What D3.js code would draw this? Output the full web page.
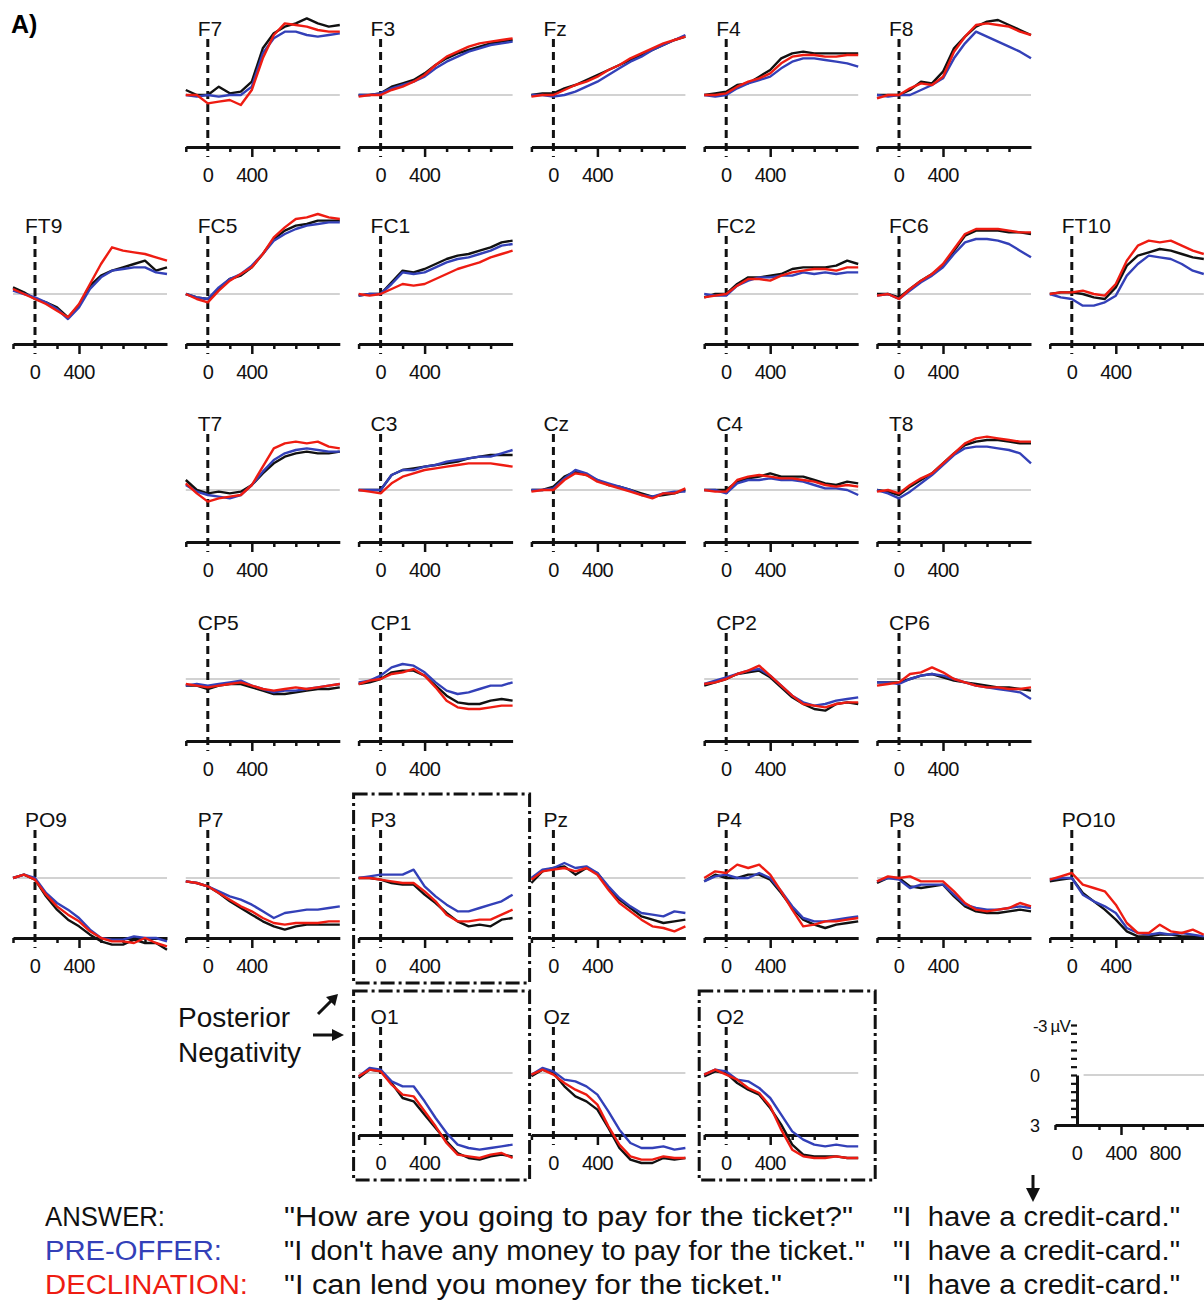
<!DOCTYPE html>
<html>
<head>
<meta charset="utf-8">
<script src="https://cdn.jsdelivr.net/npm/d3@7"></script>
<style>
  body { margin: 0; background: #fff; }
  svg { display: block; font-family: "Liberation Sans", Arial, sans-serif; }
</style>
</head>
<body>
<div id="chart"></div>
<script>
// sample times (ms) for every waveform
const times = [-200, -100, 0, 100, 200, 300, 400, 500, 600, 700, 800, 900, 1000, 1100, 1200];

const conditions = ['ANSWER:', 'PRE-OFFER:', 'DECLINATION:'];
const contexts = [
  '"How are you going to pay for the ticket?"',
  '"I don\'t have any money to pay for the ticket."',
  '"I can lend you money for the ticket."'
];
const target = '"I  have a credit-card."';
const colors = ['#111111', '#3340b8', '#ee1c12'];

// electrode montage, rows x columns
const grid = [
  [null, 'F7', 'F3', 'Fz', 'F4', 'F8', null],
  ['FT9', 'FC5', 'FC1', null, 'FC2', 'FC6', 'FT10'],
  [null, 'T7', 'C3', 'Cz', 'C4', 'T8', null],
  [null, 'CP5', 'CP1', null, 'CP2', 'CP6', null],
  ['PO9', 'P7', 'P3', 'Pz', 'P4', 'P8', 'PO10'],
  [null, null, 'O1', 'Oz', 'O2', null, null]
];
const boxed = ['P3', 'O1', 'O2'];

// amplitudes in µV (negative plotted up)
const answer = {
  F7: [-0.3, 0, 0, -0.5, -0.1, -0.2, -0.8, -2.8, -3.7, -4.1, -4.3, -4.6, -4.3, -4.1, -4.2],
  F3: [0, 0, -0.1, -0.5, -0.7, -0.9, -1.3, -1.8, -2.2, -2.5, -2.7, -2.9, -3.1, -3.2, -3.3],
  Fz: [0, -0.1, -0.1, -0.4, -0.6, -0.9, -1.2, -1.5, -1.8, -2.1, -2.4, -2.7, -3.0, -3.3, -3.5],
  F4: [0, -0.1, -0.2, -0.6, -0.7, -1.1, -1.5, -2.2, -2.5, -2.6, -2.5, -2.5, -2.5, -2.5, -2.5],
  F8: [0, 0, 0, -0.3, -0.8, -0.7, -1.4, -2.8, -3.5, -4.1, -4.4, -4.5, -4.2, -3.9, -3.6],
  FT9: [-0.4, -0.1, 0.3, 0.5, 0.8, 1.4, 0.7, -0.5, -1.1, -1.4, -1.6, -1.8, -2.0, -1.4, -1.6],
  FC5: [0, 0.2, 0.3, -0.3, -0.9, -1.1, -1.6, -2.4, -3.3, -3.8, -4.1, -4.2, -4.4, -4.4, -4.4],
  FC1: [0.1, 0, 0, -0.7, -1.4, -1.3, -1.5, -1.8, -2.1, -2.3, -2.4, -2.6, -2.8, -3.1, -3.2],
  FC2: [0.2, 0, 0, -0.6, -1.0, -1.0, -1.1, -1.2, -1.5, -1.6, -1.6, -1.6, -1.7, -2.0, -1.8],
  FC6: [0, 0, 0.2, -0.3, -0.8, -1.2, -1.7, -2.6, -3.5, -3.8, -3.8, -3.8, -3.7, -3.7, -3.6],
  FT10: [0, -0.1, -0.1, 0, 0.2, 0.3, -0.4, -1.7, -2.3, -2.5, -2.7, -2.6, -2.4, -2.2, -2.1],
  T7: [-0.6, 0, 0.2, 0.1, 0.2, 0.1, -0.3, -1.0, -1.6, -2.0, -2.2, -2.3, -2.2, -2.2, -2.3],
  C3: [0, 0, 0, -0.9, -1.2, -1.3, -1.4, -1.5, -1.6, -1.7, -1.9, -2.0, -2.1, -2.1, -2.1],
  Cz: [0, 0, -0.2, -0.8, -1.1, -0.9, -0.6, -0.3, -0.2, 0, 0.2, 0.4, 0.3, 0.2, 0],
  C4: [0, 0, 0, -0.5, -0.7, -0.8, -1.0, -0.8, -0.8, -0.8, -0.6, -0.4, -0.3, -0.5, -0.4],
  T8: [0, 0.1, 0.3, -0.2, -0.6, -1.0, -1.6, -2.2, -2.7, -2.9, -3.0, -3.0, -2.9, -2.8, -2.8],
  CP5: [0.4, 0.4, 0.6, 0.4, 0.3, 0.3, 0.5, 0.7, 0.9, 0.9, 0.8, 0.7, 0.6, 0.6, 0.5],
  CP1: [0.3, 0.2, 0, -0.4, -0.5, -0.5, -0.2, 0.4, 1.0, 1.4, 1.5, 1.5, 1.3, 1.2, 1.3],
  CP2: [0.4, 0.2, 0, -0.3, -0.4, -0.5, -0.1, 0.5, 1.1, 1.5, 1.8, 1.9, 1.5, 1.4, 1.5],
  CP6: [0.2, 0.2, 0.2, 0, -0.2, -0.3, -0.1, 0.1, 0.2, 0.3, 0.4, 0.5, 0.5, 0.6, 0.7],
  PO9: [0, -0.2, 0.1, 1.1, 1.9, 2.5, 2.9, 3.4, 3.8, 4.0, 4.0, 3.7, 3.9, 3.9, 4.3],
  P7: [0.2, 0.3, 0.5, 0.9, 1.4, 1.8, 2.2, 2.6, 2.9, 3.1, 2.9, 2.8, 2.8, 2.8, 2.8],
  P3: [0, 0, 0.1, 0.3, 0.4, 0.4, 1.0, 1.5, 2.1, 2.6, 2.9, 2.8, 2.9, 2.5, 2.4],
  Pz: [0.3, -0.4, -0.6, -0.7, -0.2, -0.6, -0.3, 0.6, 1.3, 1.8, 2.3, 2.5, 2.7, 2.6, 2.5],
  P4: [0.2, -0.2, 0, 0, -0.2, -0.2, 0.1, 0.9, 1.8, 2.5, 2.8, 3.0, 2.8, 2.7, 2.6],
  P8: [0.3, 0, 0, 0.5, 0.6, 0.5, 0.4, 1.1, 1.7, 2.0, 2.1, 2.1, 2.0, 1.9, 2.0],
  PO10: [0.2, 0.1, 0, 0.9, 1.4, 1.9, 2.5, 3.2, 3.5, 3.5, 3.4, 3.4, 3.5, 3.5, 3.6],
  O1: [0.3, -0.2, -0.1, 0.6, 1.5, 1.7, 2.5, 3.3, 4.1, 4.8, 5.1, 5.2, 5.0, 4.9, 5.0],
  Oz: [0.2, -0.2, 0, 0.8, 1.4, 1.7, 2.2, 3.3, 4.5, 5.2, 5.4, 5.4, 5.1, 5.2, 5.1],
  O2: [0.2, -0.1, 0, 0.6, 1.0, 1.3, 2.1, 3.1, 4.3, 4.9, 5.0, 5.0, 5.0, 5.1, 5.1]
};

const preOffer = {
  F7: [0, 0.1, 0, 0.1, 0, 0, -0.5, -2.5, -3.4, -3.8, -3.8, -3.6, -3.5, -3.6, -3.7],
  F3: [0, 0, -0.1, -0.4, -0.6, -0.8, -1.1, -1.6, -2.0, -2.3, -2.6, -2.8, -3.0, -3.1, -3.2],
  Fz: [0, 0, 0.1, 0, -0.2, -0.5, -0.8, -1.2, -1.6, -2.0, -2.3, -2.7, -3.0, -3.3, -3.6],
  F4: [0, 0.1, 0, -0.4, -0.7, -0.9, -1.1, -1.6, -2.0, -2.2, -2.2, -2.1, -2.0, -1.9, -1.7],
  F8: [0, 0.1, 0, 0, -0.3, -0.6, -1.0, -2.2, -3.1, -3.8, -3.5, -3.2, -2.9, -2.6, -2.2],
  FT9: [-0.2, 0, 0.2, 0.5, 0.9, 1.5, 0.8, -0.3, -1.0, -1.4, -1.5, -1.6, -1.6, -1.3, -1.2],
  FC5: [0, 0.2, 0.3, -0.4, -0.9, -1.2, -1.7, -2.4, -3.2, -3.6, -3.9, -4.1, -4.2, -4.3, -4.3],
  FC1: [0.1, 0, 0, -0.6, -1.3, -1.2, -1.3, -1.6, -1.9, -2.1, -2.2, -2.4, -2.6, -2.9, -3.0],
  FC2: [0, 0.1, 0.1, -0.5, -0.8, -1.0, -1.0, -1.1, -1.1, -1.3, -1.2, -1.3, -1.2, -1.3, -1.3],
  FC6: [0.1, 0, 0.3, -0.2, -0.7, -1.1, -1.6, -2.4, -3.1, -3.3, -3.3, -3.2, -3.0, -2.6, -2.2],
  FT10: [0, 0.2, 0.3, 0.7, 0.7, 0.5, 0.1, -1.1, -1.8, -2.3, -2.2, -2.1, -1.8, -1.4, -1.2],
  T7: [-0.3, 0.1, 0.3, 0.4, 0.5, 0.3, -0.3, -1.1, -1.8, -2.2, -2.4, -2.5, -2.4, -2.3, -2.3],
  C3: [0, 0, 0, -0.9, -1.2, -1.2, -1.4, -1.5, -1.7, -1.8, -1.9, -2.0, -2.0, -2.2, -2.4],
  Cz: [0, 0, -0.1, -0.7, -1.2, -1.0, -0.6, -0.4, -0.2, 0, 0.3, 0.4, 0.2, 0.1, 0.1],
  C4: [0, 0, 0.2, -0.4, -0.6, -0.6, -0.7, -0.6, -0.6, -0.5, -0.3, -0.1, -0.1, 0, 0.3],
  T8: [0, 0.2, 0.5, 0.1, -0.4, -0.9, -1.5, -2.1, -2.5, -2.6, -2.6, -2.5, -2.4, -2.2, -1.6],
  CP5: [0.4, 0.3, 0.4, 0.3, 0.2, 0.1, 0.4, 0.6, 0.8, 0.7, 0.7, 0.6, 0.5, 0.4, 0.3],
  CP1: [0.2, 0.1, -0.2, -0.7, -0.9, -0.8, -0.4, 0.2, 0.7, 0.9, 0.8, 0.6, 0.4, 0.4, 0.2],
  CP2: [0.3, 0.1, -0.1, -0.3, -0.5, -0.6, -0.2, 0.4, 1.0, 1.4, 1.6, 1.5, 1.3, 1.2, 1.1],
  CP6: [0.2, 0.2, 0.3, 0, -0.2, -0.3, -0.2, 0, 0.2, 0.4, 0.5, 0.6, 0.7, 0.8, 1.2],
  PO9: [0, -0.2, 0, 0.9, 1.5, 1.9, 2.4, 3.1, 3.6, 3.7, 3.7, 3.5, 3.6, 3.6, 3.8],
  P7: [0.2, 0.3, 0.5, 0.8, 1.1, 1.3, 1.6, 2.0, 2.4, 2.1, 2.0, 1.9, 1.9, 1.8, 1.7],
  P3: [0, -0.1, -0.2, -0.2, -0.2, -0.5, 0.5, 1.1, 1.6, 2.0, 2.0, 1.8, 1.6, 1.4, 1.0],
  Pz: [0, -0.5, -0.6, -0.9, -0.6, -0.7, -0.3, 0.5, 1.2, 1.7, 2.1, 2.2, 2.3, 2.0, 2.1],
  P4: [0.2, -0.1, -0.2, 0, 0, -0.3, 0, 0.8, 1.7, 2.4, 2.6, 2.6, 2.5, 2.4, 2.3],
  P8: [0.2, 0, 0.1, 0.6, 0.4, 0.4, 0.4, 1.0, 1.6, 1.8, 1.9, 1.9, 1.8, 1.7, 1.8],
  PO10: [0.1, 0, 0, 1.0, 1.4, 1.7, 2.1, 3.0, 3.3, 3.4, 3.3, 3.4, 3.3, 3.4, 3.5],
  O1: [0.2, -0.3, -0.2, 0.5, 0.8, 0.8, 1.7, 2.7, 3.6, 4.3, 4.5, 4.6, 4.5, 4.4, 4.3],
  Oz: [0.1, -0.3, -0.1, 0.4, 0.5, 0.8, 1.3, 2.3, 3.4, 4.2, 4.5, 4.5, 4.4, 4.6, 4.5],
  O2: [0.1, -0.2, -0.1, 0.4, 0.5, 0.9, 1.5, 2.5, 3.5, 4.0, 4.3, 4.4, 4.3, 4.4, 4.4]
};

const declination = {
  F7: [0, 0, 0.5, 0.4, 0.3, 0.6, -0.3, -2.2, -3.6, -4.3, -4.2, -4.1, -3.9, -3.8, -3.8],
  F3: [0.1, 0, 0, -0.3, -0.5, -0.8, -1.2, -1.8, -2.3, -2.6, -2.9, -3.1, -3.2, -3.3, -3.4],
  Fz: [0.1, 0, 0, -0.3, -0.6, -0.8, -1.1, -1.5, -1.8, -2.2, -2.5, -2.8, -3.1, -3.3, -3.5],
  F4: [0, 0, -0.1, -0.5, -0.8, -1.0, -1.3, -1.9, -2.3, -2.4, -2.4, -2.3, -2.3, -2.4, -2.4],
  F8: [0.2, 0, 0, -0.4, -0.7, -0.6, -1.1, -2.6, -3.5, -4.2, -4.3, -4.2, -4.1, -3.8, -3.6],
  FT9: [-0.3, 0, 0.3, 0.6, 1.0, 1.4, 0.6, -0.6, -1.8, -2.8, -2.6, -2.5, -2.4, -2.2, -2.0],
  FC5: [0, 0.3, 0.5, -0.2, -0.8, -1.2, -1.6, -2.4, -3.4, -4.0, -4.5, -4.6, -4.8, -4.6, -4.5],
  FC1: [0, 0.1, 0, -0.3, -0.6, -0.5, -0.6, -0.9, -1.2, -1.5, -1.7, -1.9, -2.2, -2.4, -2.6],
  FC2: [0.2, 0.1, 0, -0.5, -0.9, -0.9, -0.8, -1.1, -1.3, -1.4, -1.5, -1.5, -1.4, -1.6, -1.6],
  FC6: [0.1, 0, 0.3, -0.3, -0.8, -1.2, -1.8, -2.7, -3.6, -3.9, -3.9, -3.9, -3.8, -3.7, -3.7],
  FT10: [0, -0.1, -0.1, -0.2, 0, 0.1, -0.6, -2.0, -2.9, -3.2, -3.1, -3.2, -2.9, -2.6, -2.4],
  T7: [-0.4, 0.2, 0.7, 0.5, 0.4, 0.3, -0.3, -1.4, -2.5, -2.8, -2.9, -2.8, -2.9, -2.6, -2.5],
  C3: [0, 0.1, 0.2, -0.4, -0.8, -1.0, -1.2, -1.3, -1.4, -1.5, -1.6, -1.6, -1.6, -1.5, -1.4],
  Cz: [0.1, 0, 0, -0.6, -1.0, -0.9, -0.5, -0.3, -0.1, 0.1, 0.3, 0.5, 0.2, 0.2, -0.1],
  C4: [0, 0.1, 0.1, -0.6, -0.8, -0.9, -0.8, -0.7, -0.7, -0.6, -0.5, -0.3, -0.2, -0.3, -0.2],
  T8: [0.1, 0, 0.2, -0.3, -0.7, -1.0, -1.6, -2.2, -2.8, -3.1, -3.2, -3.1, -3.0, -2.9, -2.9],
  CP5: [0.3, 0.4, 0.5, 0.4, 0.3, 0.2, 0.4, 0.6, 0.7, 0.6, 0.5, 0.6, 0.5, 0.4, 0.3],
  CP1: [0.3, 0.1, 0, -0.3, -0.4, -0.6, -0.2, 0.5, 1.3, 1.7, 1.8, 1.8, 1.7, 1.6, 1.6],
  CP2: [0.3, 0.2, 0, -0.3, -0.5, -0.8, -0.2, 0.4, 1.0, 1.5, 1.6, 1.7, 1.5, 1.4, 1.4],
  CP6: [0.4, 0.3, 0.2, -0.3, -0.4, -0.7, -0.4, 0, 0.2, 0.4, 0.5, 0.5, 0.6, 0.6, 0.5],
  PO9: [0, -0.2, 0.1, 1.0, 1.7, 2.2, 2.6, 3.2, 3.6, 3.8, 3.8, 3.9, 3.6, 3.9, 4.1],
  P7: [0.2, 0.3, 0.5, 0.9, 1.3, 1.7, 2.0, 2.4, 2.7, 2.8, 2.7, 2.7, 2.7, 2.6, 2.6],
  P3: [0, 0, 0.1, 0.2, 0.3, 0.3, 0.8, 1.4, 2.2, 2.6, 2.6, 2.5, 2.5, 2.2, 1.9],
  Pz: [0.1, -0.4, -0.5, -0.6, -0.4, -0.6, -0.2, 0.7, 1.5, 2.0, 2.5, 2.9, 3.0, 3.2, 2.9],
  P4: [0, -0.4, -0.3, -0.8, -0.6, -0.8, -0.2, 0.8, 1.9, 2.9, 2.8, 2.6, 2.6, 2.5, 2.4],
  P8: [0.2, -0.1, 0, -0.1, 0.2, 0.2, 0.2, 0.8, 1.5, 1.9, 2.0, 1.9, 1.8, 1.5, 1.7],
  PO10: [0.1, -0.1, -0.3, 0.4, 0.6, 0.8, 1.6, 2.7, 3.3, 3.3, 2.8, 3.2, 3.3, 3.1, 3.4],
  O1: [0.2, -0.2, -0.1, 0.7, 1.3, 1.4, 2.3, 3.2, 4.2, 4.9, 5.0, 5.1, 4.9, 4.8, 5.1],
  Oz: [0.1, -0.2, 0.1, 0.6, 1.0, 1.3, 1.9, 3.2, 4.3, 5.0, 5.2, 5.2, 5.0, 5.1, 5.1],
  O2: [0.1, -0.2, 0.1, 0.4, 0.9, 1.2, 2.0, 3.4, 4.6, 5.0, 5.1, 5.1, 5.0, 5.1, 5.1]
};

const series = [answer, preOffer, declination];
const xTicks = [-200, 200, 400, 600, 800, 1000];
const xTickLabels = [0, 400];
const calXLabels = [0, 400, 800];
const calYTicks = d3.range(-3, 3.01, 0.5);
const calYLabels = [-3, 0, 3];

// layout
const width = 1204;
const height = 1306;
const colZero = c => 35 + 172.8 * c;
const rowBase = [95, 294, 490, 679, 878, 1073];
const rowAxis = [147, 344, 542, 741, 938, 1135];
// widths the legend sentences take up in the figure
const conditionWidths = [120, 177, 203];
const contextWidths = [569, 581, 498];
const targetWidth = 287;

const svg = d3.select('#chart')
  .append('svg')
  .attr('width', width)
  .attr('height', height)
  .attr('viewBox', [0, 0, width, height]);

svg.append('text')
  .attr('x', 11).attr('y', 33)
  .attr('font-size', 25).attr('font-weight', 'bold')
  .text('A)');

function panelScales(x0, base) {
  const x = d3.scaleLinear().domain([-200, 1200]).range([x0 - 22, x0 + 132]);
  const y = d3.scaleLinear().domain([0, 3]).range([base, base + 50]);
  return {x, y};
}

function timeAxis(g, x, axisY, labels) {
  g.attr('transform', `translate(0,${axisY})`)
    .call(d3.axisBottom(x).tickValues(xTicks).tickSize(5).tickSizeOuter(0).tickFormat(''))
    .call(g => g.select('.domain').attr('stroke', '#111').attr('stroke-width', 3))
    .call(g => g.selectAll('.tick line').attr('stroke', '#111').attr('stroke-width', 2.5)
      .attr('y2', d => d === 400 ? 10 : 5));
  g.selectAll('.lbl')
    .data(labels)
    .join('text')
    .attr('class', 'lbl')
    .attr('x', d => x(d))
    .attr('y', 35)
    .attr('text-anchor', 'middle')
    .attr('font-size', 20)
    .attr('letter-spacing', -0.8)
    .attr('fill', '#111')
    .text(d => d);
}

const line = d3.line().curve(d3.curveLinear);

grid.forEach((row, r) => {
  row.forEach((name, c) => {
    if (!name) return;
    const x0 = colZero(c);
    const {x, y} = panelScales(x0, rowBase[r]);
    const g = svg.append('g');

    // zero line
    g.append('line')
      .attr('x1', x(-200)).attr('x2', x(1200))
      .attr('y1', y(0)).attr('y2', y(0))
      .attr('stroke', '#d2d2d2').attr('stroke-width', 2);

    // onset marker
    g.append('line')
      .attr('x1', x(0)).attr('x2', x(0))
      .attr('y1', rowAxis[r] - 108).attr('y2', rowAxis[r] + 10)
      .attr('stroke', '#111').attr('stroke-width', 3)
      .attr('stroke-dasharray', '8,5');

    g.append('g').call(timeAxis, x, rowAxis[r], xTickLabels);

    series.forEach((s, i) => {
      g.append('path')
        .attr('d', line(times.map((t, k) => [x(t), y(s[name][k])])))
        .attr('fill', 'none')
        .attr('stroke', colors[i])
        .attr('stroke-width', 2.4)
        .attr('stroke-linejoin', 'round');
    });

    g.append('text')
      .attr('x', x0 - 10).attr('y', rowAxis[r] - 111)
      .attr('font-size', 21).attr('fill', '#111')
      .text(name);

    if (boxed.includes(name)) {
      g.append('rect')
        .attr('x', x0 - 27).attr('y', rowAxis[r] - 144)
        .attr('width', 176).attr('height', 189)
        .attr('fill', 'none').attr('stroke', '#111').attr('stroke-width', 3)
        .attr('stroke-dasharray', '14,4,3,4');
    }
  });
});

// calibration panel
{
  const x0 = 1077;
  const base = 1075;
  const {x, y} = panelScales(x0, base);
  const g = svg.append('g');
  g.append('line')
    .attr('x1', x(60)).attr('x2', x(1200))
    .attr('y1', y(0)).attr('y2', y(0))
    .attr('stroke', '#d2d2d2').attr('stroke-width', 2);
  g.append('g').call(timeAxis, x, y(3), calXLabels);
  g.append('g')
    .attr('transform', `translate(${x(0)},0)`)
    .call(d3.axisLeft(y).tickValues(calYTicks).tickSize(6).tickSizeOuter(0).tickFormat(''))
    .call(g => g.select('.domain').attr('stroke', '#111').attr('stroke-width', 3))
    .call(g => g.selectAll('.tick line').attr('stroke', '#111').attr('stroke-width', 2.2));
  g.selectAll('.ylab')
    .data(calYLabels)
    .join('text')
    .attr('x', d => d === -3 ? x(0) - 7 : x(0) - 37)
    .attr('y', d => y(d) + 7)
    .attr('text-anchor', 'end')
    .attr('font-size', d => d === -3 ? 17 : 18)
    .attr('letter-spacing', d => d === -3 ? -0.8 : 0)
    .attr('fill', '#111')
    .text(d => d === -3 ? '-3 \u00b5V' : d);
}

// arrow under the calibration
svg.append('path')
  .attr('d', 'M1033,1175 V1192')
  .attr('stroke', '#111').attr('stroke-width', 3);
svg.append('path')
  .attr('d', 'M1026,1188 L1040,1188 L1033,1202 Z')
  .attr('fill', '#111');

// Posterior Negativity annotation
svg.append('text').attr('x', 178).attr('y', 1027).attr('font-size', 28).attr('fill', '#111').text('Posterior');
svg.append('text').attr('x', 178).attr('y', 1062).attr('font-size', 28).attr('fill', '#111').text('Negativity');
svg.append('path').attr('d', 'M318,1014 L333,999').attr('stroke', '#111').attr('stroke-width', 3);
svg.append('path').attr('d', 'M338,994 L326,997 L335,1006 Z').attr('fill', '#111');
svg.append('path').attr('d', 'M313,1035 L334,1035').attr('stroke', '#111').attr('stroke-width', 3);
svg.append('path').attr('d', 'M344,1035 L332,1029 L332,1041 Z').attr('fill', '#111');

// sentence legend
const legend = svg.append('g').attr('font-size', 27);
conditions.forEach((cond, i) => {
  const yy = 1226 + i * 34;
  legend.append('text').attr('x', 45).attr('y', yy).attr('fill', colors[i])
    .attr('textLength', conditionWidths[i]).attr('lengthAdjust', 'spacingAndGlyphs')
    .text(cond);
  legend.append('text').attr('x', 284).attr('y', yy).attr('fill', '#111')
    .attr('textLength', contextWidths[i]).attr('lengthAdjust', 'spacingAndGlyphs')
    .text(contexts[i]);
  legend.append('text').attr('x', 893).attr('y', yy).attr('fill', '#111')
    .attr('textLength', targetWidth).attr('lengthAdjust', 'spacingAndGlyphs')
    .style('white-space', 'pre').text(target);
});
</script>
</body>
</html>
